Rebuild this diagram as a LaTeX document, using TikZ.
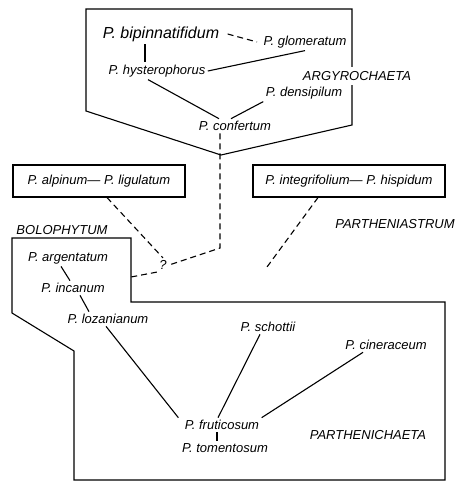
\documentclass[tikz,border=0pt]{standalone}
\usepackage{fontspec}
\setmainfont{Liberation Sans}

\begin{document}
\begin{tikzpicture}[%
          x=1pt, y=-1pt,
          line width=1.1pt,
          sp/.style={font=\itshape\fontsize{13}{15}\selectfont, inner sep=2pt},
          bigsp/.style={font=\itshape\fontsize{16}{18}\selectfont, inner sep=2pt},
          grp/.style={sp, draw, minimum height=32pt},
          dsh/.style={dash pattern=on 6pt off 4pt},
        ]
        \useasboundingbox (0,0) rectangle (458,491);

        % section outlines
        \draw (86,9) -- (352,9) -- (352,125) -- (221,155) -- (86,111) -- cycle;
        \draw (12,238) -- (131,238) -- (131,302) -- (445,302) -- (445,480)
              -- (74,480) -- (74,351) -- (12,313) -- cycle;

        \node[sp, fill=white, inner xsep=1pt, inner ysep=4pt] (argy) at (357,76) {ARGYROCHAETA};
        \node[sp] (bolo) at (62,230) {BOLOPHYTUM};
        \node[sp] (pastr) at (395,224) {PARTHENIASTRUM};
        \node[sp] (pchae) at (368,435) {PARTHENICHAETA};

        \node[bigsp] (bipin) at (161,34) {P. bipinnatifidum};
        \node[sp] (glomer) at (305,42) {P. glomeratum};
        \node[sp] (hyster) at (157,71) {P. hysterophorus};
        \node[sp] (densi) at (304,93) {P. densipilum};
        \node[sp] (confer) at (235,126) {P. confertum};

        \node[grp, minimum width=172pt] (alpin) at (99,181) {P. alpinum— P. ligulatum};
        \node[grp, minimum width=192pt] (integ) at (349,181) {P. integrifolium— P. hispidum};
        \node[sp] (quest) at (163,265) {?};

        \node[sp] (argent) at (68,258) {P. argentatum};
        \node[sp] (incan) at (73,288) {P. incanum};
        \node[sp] (lozan) at (108,319) {P. lozanianum};
        \node[sp] (schot) at (268,327) {P. schottii};
        \node[sp] (ciner) at (386,345) {P. cineraceum};
        \node[sp] (frut) at (222,425) {P. fruticosum};
        \node[sp] (tomen) at (225,448) {P. tomentosum};

        \coordinate (bend) at (220,248);
        \coordinate (partW) at (131,277);
        \coordinate (partE) at (267,267);

        \draw[dsh] ([xshift=6pt]bipin.east) -- ([xshift=-4pt]glomer.west);
        \draw ([xshift=-16pt]bipin.south) -- ([xshift=-12pt]hyster.north);
        \draw (hyster.east) -- (glomer.south);
        \draw ([xshift=-9pt]hyster.south) -- ([xshift=-16pt]confer.north);
        \draw (densi.south west) -- ([xshift=-4pt]confer.north);

        \draw[dsh] ([xshift=-15pt]confer.south) -- (bend) -- (quest.east);
        \draw[dsh] (quest.south west) -- (partW);
        \draw[dsh] ([xshift=8pt]alpin.south) -- (quest.north);
        \draw[dsh] ([xshift=-31pt]integ.south) -- (partE);

        \draw ([xshift=-7pt]argent.south) -- ([xshift=-3pt]incan.north);
        \draw ([xshift=7pt]incan.south) -- ([xshift=-19pt]lozan.north);
        \draw ([xshift=-2pt]lozan.south) -- ([xshift=-4pt]frut.north west);
        \draw ([xshift=-8pt]schot.south) -- ([xshift=-4pt]frut.north);
        \draw ([xshift=-23pt]ciner.south) -- (frut.north east);
        \draw ([xshift=-5pt]frut.south) -- ([xshift=-8pt]tomen.north);
      \end{tikzpicture}
\end{document}
